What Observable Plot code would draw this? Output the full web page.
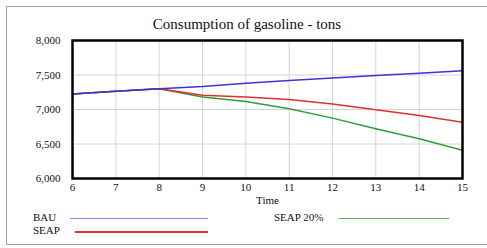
<!DOCTYPE html>
<html>
<head>
<meta charset="utf-8">
<script src="https://cdn.jsdelivr.net/npm/d3@7"></script>
<script src="https://cdn.jsdelivr.net/npm/@observablehq/plot@0.6"></script>
<style>
  html, body { margin: 0; padding: 0; background: #fff; }
  #wrap { position: relative; width: 487px; height: 248px; overflow: hidden; font-family: 'Liberation Serif' !important; }
  #border { position: absolute; left: 6px; top: 6px; width: 481px; height: 239px; border: 1px solid #a0a0a0; border-right: none; box-sizing: border-box; }
  #title { position: absolute; left: 0; width: 494px; top: 16px; text-align: center; font-size: 15px; color: #111; font-family: 'Liberation Serif' !important; }
  #chart { position: absolute; left: 0; top: 0; }
  #chart svg, #chart svg text { font-family: 'Liberation Serif' !important; }
  .leg { position: absolute; font-size: 11px; color: #111; font-family: 'Liberation Serif' !important; }
  .sw { position: absolute; height: 0; }
</style>
</head>
<body>
<div id="wrap">
  <div id="border"></div>
  <div id="chart"></div>
  <div id="title"></div>
  <div id="legend"></div>
</div>
<script>
const titleText = "Consumption of gasoline - tons";
const xLabel = "Time";
const time = [6, 7, 8, 9, 10, 11, 12, 13, 14, 15];
const bau = [7225, 7265, 7300, 7333, 7380, 7420, 7458, 7493, 7527, 7563];
const seap = [7225, 7265, 7300, 7205, 7180, 7145, 7080, 6998, 6913, 6815];
const seap20 = [7225, 7265, 7300, 7180, 7115, 7010, 6875, 6722, 6575, 6410];
const seriesNames = ["BAU", "SEAP", "SEAP 20%"];
const seriesColors = ["#3b35d6", "#e0302c", "#2f9e37"];
const legendColors = ["#8a86e6", "#d8302c", "#56b05a"];
const yTicks = [6000, 6500, 7000, 7500, 8000];

const rows = [];
[bau, seap, seap20].forEach((arr, i) => {
  time.forEach((t, j) => rows.push({series: seriesNames[i], time: t, value: arr[j]}));
});
const drawOrder = ["SEAP 20%", "SEAP", "BAU"];

document.getElementById("title").textContent = titleText;

const plot = Plot.plot({
  width: 487,
  height: 248,
  marginTop: 40,
  marginBottom: 70,
  marginLeft: 72,
  marginRight: 25,
  style: {fontFamily: "'Liberation Serif'", fontSize: "11px", color: "#111", background: "transparent"},
  x: {domain: [6, 15], ticks: time},
  y: {domain: [6000, 8000], ticks: yTicks},
  color: {domain: seriesNames, range: seriesColors},
  marks: [
    Plot.gridX(time, {stroke: "#d4d4d4", strokeOpacity: 1, strokeWidth: 1}),
    Plot.gridY(yTicks, {stroke: "#d4d4d4", strokeOpacity: 1, strokeWidth: 1}),
    Plot.axisX({ticks: time, tickSize: 0, tickPadding: 5, tickFormat: d => String(d), label: xLabel, labelArrow: "none", labelAnchor: "center", labelOffset: 25, fontSize: 11}),
    Plot.axisY({ticks: yTicks, tickSize: 0, tickPadding: 12, tickFormat: d3.format(","), label: null, fontSize: 11}),
    ...drawOrder.map(s => Plot.line(rows.filter(r => r.series === s), {x: "time", y: "value", stroke: "series", strokeWidth: 1.5})),
    Plot.frame({stroke: "#000", strokeWidth: 2.5})
  ]
});
document.getElementById("chart").appendChild(plot);

// legend
const legendLayout = [
  {name: "BAU", tx: 33, ty: 211, x1: 70, x2: 208, y: 218},
  {name: "SEAP", tx: 33, ty: 224, x1: 75, x2: 208, y: 231},
  {name: "SEAP 20%", tx: 274, ty: 211, x1: 339, x2: 449, y: 218}
];
const leg = document.getElementById("legend");
legendLayout.forEach(l => {
  const i = seriesNames.indexOf(l.name);
  const t = document.createElement("div");
  t.className = "leg";
  t.style.left = l.tx + "px";
  t.style.top = l.ty + "px";
  t.textContent = l.name;
  leg.appendChild(t);
  const s = document.createElement("div");
  s.className = "sw";
  s.style.left = l.x1 + "px";
  s.style.width = (l.x2 - l.x1) + "px";
  s.style.top = l.y + "px";
  s.style.borderTop = (l.name === "SEAP" ? 2 : 1) + "px solid " + legendColors[i];
  leg.appendChild(s);
});
</script>
</body>
</html>
